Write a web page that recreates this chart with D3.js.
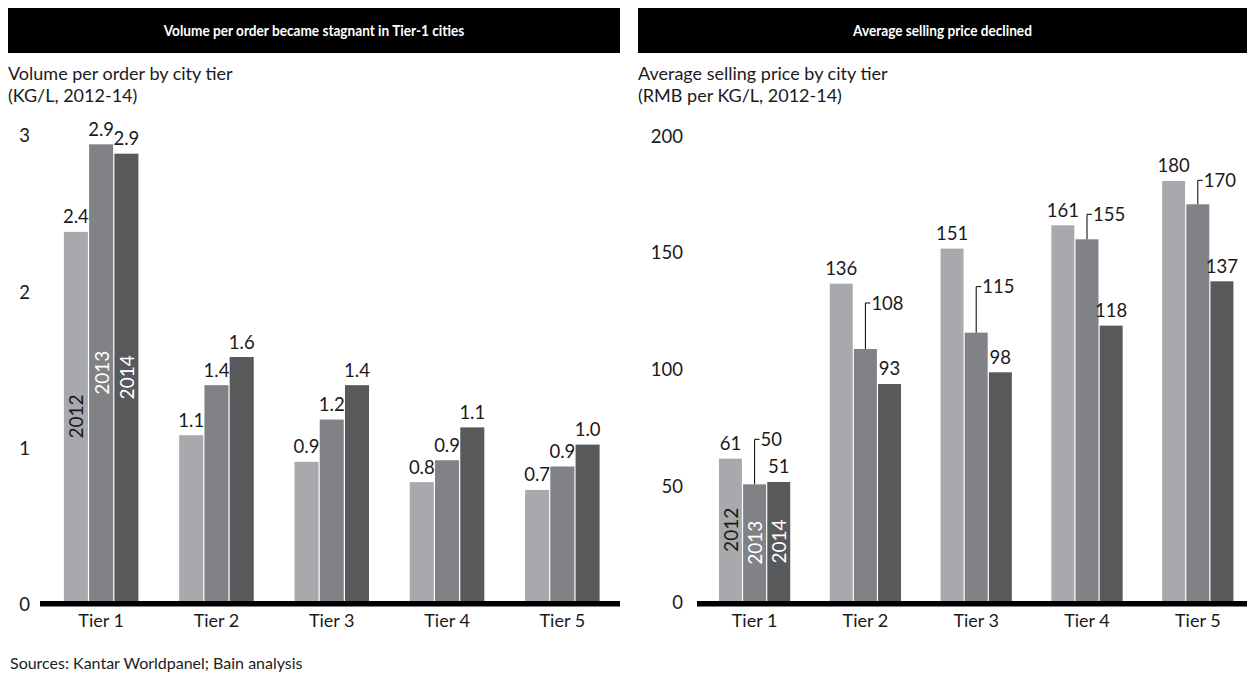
<!DOCTYPE html>
<html>
<head>
<meta charset="utf-8">
<script src="https://cdn.jsdelivr.net/npm/d3@7"></script>
<style>
  html, body { margin: 0; padding: 0; background: #fff; }
  svg { display: block; }
  text { font-family: "Lato", "Open Sans", sans-serif; fill: #1a1a1a; }
</style>
</head>
<body>
<svg id="chart" width="1255" height="674"></svg>
<script>
// ---- data -------------------------------------------------------------
const tiers = ["Tier 1", "Tier 2", "Tier 3", "Tier 4", "Tier 5"];
const years = ["2012", "2013", "2014"];

// Volume per order (KG/L)
const volume2012 = [2.36, 1.06, 0.89, 0.76, 0.71];
const volume2013 = [2.92, 1.38, 1.16, 0.90, 0.86];
const volume2014 = [2.86, 1.56, 1.38, 1.11, 1.00];
const volumeTicks = [0, 1, 2, 3];

// Average selling price (RMB per KG/L)
const price2012 = [61, 136, 151, 161, 180];
const price2013 = [50, 108, 115, 155, 170];
const price2014 = [51, 93, 98, 118, 137];
const priceTicks = [0, 50, 100, 150, 200];

const yearColors = { "2012": "#a7a9ac", "2013": "#808285", "2014": "#58595b" };
const yearLabelColors = { "2012": "#1a1a1a", "2013": "#ffffff", "2014": "#ffffff" };

// ---- layout -----------------------------------------------------------
const baseY = 601;
const FONT = "Lato, 'Open Sans', sans-serif";
const svg = d3.select("#chart");

const panels = [
  {
    title: "Volume per order became stagnant in Tier-1 cities",
    subtitle: ["Volume per order by city tier", "(KG/L, 2012-14)"],
    series: { "2012": volume2012, "2013": volume2013, "2014": volume2014 },
    ticks: volumeTicks, max: 3, top: 131.8, tickDy: "0.53em",
    fmt: d3.format(".1f"),
    left: 8, right: 620, axisStart: 40, tickX: 30,
    bandStart: 43.5, bandEnd: 620, pad: 0.343,
    callouts: null
  },
  {
    title: "Average selling price declined",
    subtitle: ["Average selling price by city tier", "(RMB per KG/L, 2012-14)"],
    series: { "2012": price2012, "2013": price2013, "2014": price2014 },
    ticks: priceTicks, max: 200, top: 134.3, tickDy: "0.42em",
    fmt: d3.format("d"),
    left: 638, right: 1247, axisStart: 697, tickX: 683,
    bandStart: 699.2, bandEnd: 1253.2, pad: 0.346,
    // 2013 labels sit on a leader line; rise in px per tier
    callouts: { year: "2013", rise: [45, 46, 46, 25, 24] }
  }
];

panels.forEach(drawPanel);

svg.append("text")
  .attr("x", 10).attr("y", 669)
  .style("font-size", "16px")
  .style("fill", "#222")
  .text("Sources: Kantar Worldpanel; Bain analysis");

function drawPanel(p) {
  const g = svg.append("g");

  // header bar with a slightly condensed bold heading
  g.append("rect")
    .attr("x", p.left).attr("y", 8)
    .attr("width", p.right - p.left).attr("height", 45)
    .attr("fill", "#000");
  g.append("text")
    .attr("transform", `translate(${(p.left + p.right) / 2},36) scale(0.88,1)`)
    .attr("text-anchor", "middle")
    .style("fill", "#fff").style("font-weight", "bold").style("font-size", "15.5px")
    .text(p.title);

  // subtitle
  p.subtitle.forEach((s, i) => {
    g.append("text")
      .attr("x", p.left).attr("y", 80 + i * 22)
      .style("font-size", "18px")
      .text(s);
  });

  const x = d3.scaleBand().domain(tiers)
    .range([p.bandStart, p.bandEnd])
    .paddingInner(p.pad).paddingOuter(p.pad / 2);
  const sub = d3.scaleBand().domain(years).range([0, x.bandwidth()]);
  const y = d3.scaleLinear().domain([0, p.max]).range([baseY, p.top]);

  const rows = [];
  tiers.forEach((t, i) => years.forEach(yr => rows.push({ tier: t, i, year: yr, value: p.series[yr][i] })));

  const gap = 1.2;
  const bx = d => x(d.tier) + sub(d.year) + gap / 2;
  const bw = sub.bandwidth() - gap;
  const cx = d => x(d.tier) + sub(d.year) + sub.bandwidth() / 2;

  g.selectAll("rect.bar").data(rows).join("rect")
    .attr("class", "bar")
    .attr("x", bx)
    .attr("y", d => y(d.value))
    .attr("width", bw)
    .attr("height", d => baseY - y(d.value))
    .attr("fill", d => yearColors[d.year]);

  // year legend written inside the first group
  g.selectAll("text.year").data(rows.filter(d => d.i === 0)).join("text")
    .attr("class", "year")
    .attr("transform", d => `translate(${cx(d)},${(y(d.value) + baseY) / 2}) rotate(-90)`)
    .attr("text-anchor", "middle")
    .attr("dominant-baseline", "central")
    .style("font-size", "19px")
    .style("fill", d => yearLabelColors[d.year])
    .text(d => d.year);

  // value labels
  const isCallout = d => p.callouts && d.year === p.callouts.year;
  g.selectAll("text.val").data(rows.filter(d => !isCallout(d))).join("text")
    .attr("class", "val")
    .attr("x", cx)
    .attr("y", d => y(d.value) - 8.5)
    .attr("text-anchor", "middle")
    .style("font-size", "18.5px")
    .text(d => p.fmt(d.value));

  if (p.callouts) {
    const cd = rows.filter(isCallout);
    const rise = d => p.callouts.rise[d.i];
    g.selectAll("path.leader").data(cd).join("path")
      .attr("class", "leader")
      .attr("d", d => `M${cx(d)},${y(d.value)}V${y(d.value) - rise(d)}H${cx(d) + 5}`)
      .attr("fill", "none").attr("stroke", "#000").attr("stroke-width", 1);
    g.selectAll("text.callout").data(cd).join("text")
      .attr("class", "callout")
      .attr("x", d => cx(d) + 6)
      .attr("y", d => y(d.value) - rise(d))
      .attr("dy", "0.36em")
      .style("font-size", "18.5px")
      .text(d => p.fmt(d.value));
  }

  // baseline
  g.append("rect")
    .attr("x", p.axisStart).attr("y", baseY)
    .attr("width", p.right - p.axisStart).attr("height", 5.5)
    .attr("fill", "#000");

  // category axis
  const xa = g.append("g").attr("transform", `translate(0,${baseY})`)
    .call(d3.axisBottom(x).tickSize(0).tickPadding(13));
  xa.select(".domain").remove();
  xa.selectAll("text").style("font-size", "18px").style("fill", "#1a1a1a")
    .style("font-family", FONT);

  // value axis
  const ya = g.append("g").attr("transform", `translate(${p.tickX},0)`)
    .call(d3.axisLeft(y).tickValues(p.ticks).tickSize(0).tickPadding(0).tickFormat(d3.format("d")));
  ya.select(".domain").remove();
  ya.selectAll("text").attr("dy", p.tickDy).style("font-size", "18.5px").style("fill", "#1a1a1a")
    .style("font-family", FONT);
}
</script>
</body>
</html>
